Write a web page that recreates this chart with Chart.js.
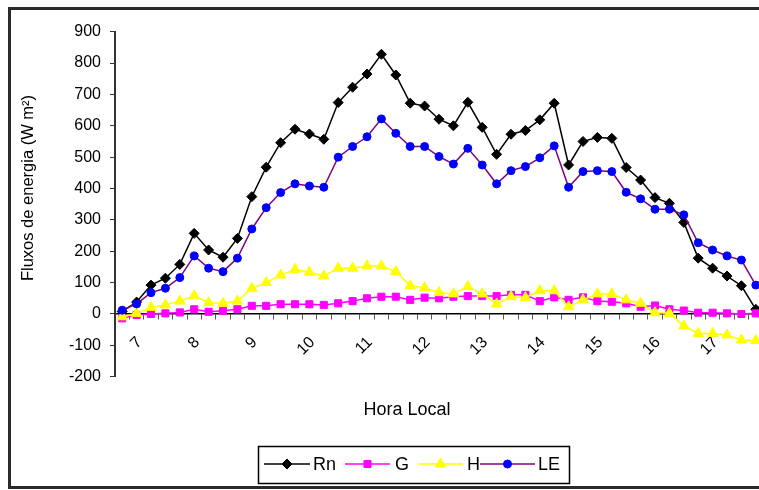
<!DOCTYPE html>
<html>
<head>
<meta charset="utf-8">
<script src="https://cdn.jsdelivr.net/npm/chart.js@4"></script>
<style>
  html, body { margin: 0; padding: 0; background: #fff; overflow: hidden; width: 759px; height: 490px; }
  #frame { position: absolute; left: 8px; top: 7px; width: 800px; height: 482px; box-sizing: border-box; border: 3px solid #2b2b2b; }
  #wrap { position: absolute; left: 0; top: 0; width: 770px; height: 490px; }
</style>
</head>
<body>
<div id="frame"></div>
<div id="wrap"><canvas id="c" width="770" height="490"></canvas></div>
<script>
// Horário local (intervalos de 15 min)
const horas = [
  '6:45', '7:00', '7:15', '7:30', '7:45', '8:00', '8:15', '8:30', '8:45',
  '9:00', '9:15', '9:30', '9:45', '10:00', '10:15', '10:30', '10:45',
  '11:00', '11:15', '11:30', '11:45', '12:00', '12:15', '12:30', '12:45',
  '13:00', '13:15', '13:30', '13:45', '14:00', '14:15', '14:30', '14:45',
  '15:00', '15:15', '15:30', '15:45', '16:00', '16:15', '16:30', '16:45',
  '17:00', '17:15', '17:30', '17:45'
];

// Saldo de radiação (Rn), W m-2
const Rn = [8, 38, 92, 114, 158, 257, 204, 181, 241, 374, 468, 546, 589, 574, 557,
  674, 723, 765, 828, 762, 672, 663, 621, 600, 675, 595, 509, 573, 585, 619,
  672, 475, 550, 563, 560, 467, 427, 371, 353, 292, 178, 146, 121, 90, 15];

// Fluxo de calor no solo (G)
const G = [-14, -3, 0, 2, 5, 15, 7, 10, 15, 26, 26, 31, 31, 31, 29,
  34, 41, 50, 55, 55, 45, 52, 50, 55, 57, 57, 57, 61, 61, 41,
  53, 45, 53, 41, 39, 34, 23, 27, 15, 11, 4, 4, 2, 0, 2];

// Fluxo de calor sensível (H)
const H = [-9, 2, 21, 29, 41, 58, 36, 34, 41, 82, 100, 124, 142, 133, 121,
  146, 146, 153, 153, 135, 90, 84, 68, 64, 87, 64, 32, 55, 52, 74,
  74, 23, 45, 64, 64, 45, 34, 4, 2, -38, -62, -62, -67, -83, -85];

// Fluxo de calor latente (LE)
const LE = [12, 32, 68, 82, 116, 185, 146, 135, 178, 271, 339, 387, 415, 408, 404,
  500, 534, 565, 622, 576, 534, 534, 502, 478, 528, 475, 415, 457, 470, 498,
  536, 404, 454, 457, 454, 388, 367, 334, 334, 316, 227, 204, 185, 172, 92];

const tituloY = 'Fluxos de energia (W m²)';
const tituloX = 'Hora Local';
const FONTE = '"Liberation Sans", Arial, sans-serif';

// Caixa de legenda e títulos dos eixos
const anotacoes = {
  id: 'anotacoes',
  afterDraw(chart) {
    const ctx = chart.ctx;
    ctx.save();
    ctx.fillStyle = '#000';

    ctx.save();
    ctx.font = '16.5px ' + FONTE;
    ctx.translate(28, 188);
    ctx.rotate(-Math.PI / 2);
    ctx.textAlign = 'center';
    ctx.textBaseline = 'middle';
    ctx.fillText(tituloY, 0, 0);
    ctx.restore();

    ctx.font = '18px ' + FONTE;
    ctx.textAlign = 'center';
    ctx.textBaseline = 'middle';
    ctx.fillText(tituloX, 407, 410);

    // legenda
    ctx.lineWidth = 1.5;
    ctx.strokeStyle = '#000';
    ctx.strokeRect(258.5, 446.5, 311, 37);
    const pos = [
      { x1: 264, x2: 310, tx: 313 },
      { x1: 345, x2: 390, tx: 395 },
      { x1: 418, x2: 463, tx: 467 },
      { x1: 480, x2: 535, tx: 538 }
    ];
    const yl = 464;
    chart.data.datasets.forEach((ds, i) => {
      const p = pos[i];
      ctx.beginPath();
      ctx.strokeStyle = ds.borderColor;
      ctx.lineWidth = 1.5;
      ctx.moveTo(p.x1, yl);
      ctx.lineTo(p.x2, yl);
      ctx.stroke();
      ctx.fillStyle = ds.pointBackgroundColor;
      ctx.strokeStyle = ds.pointBorderColor;
      ctx.lineWidth = 1;
      Chart.helpers.drawPoint(ctx, { pointStyle: ds.pointStyle, radius: ds.pointRadius, rotation: 0, borderWidth: 1 }, (p.x1 + p.x2) / 2, yl);
      ctx.fillStyle = '#000';
      ctx.textAlign = 'left';
      ctx.textBaseline = 'middle';
      ctx.fillText(ds.label, p.tx, yl + 1);
    });
    ctx.restore();
  }
};

function serie(label, data, line, fill, style, radius, order) {
  return {
    label, data, order,
    borderColor: line, borderWidth: 1.5,
    pointStyle: style, pointRadius: radius,
    pointBackgroundColor: fill, pointBorderColor: fill, pointBorderWidth: 1,
    tension: 0, fill: false, clip: false
  };
}

new Chart(document.getElementById('c'), {
  type: 'line',
  data: {
    labels: horas,
    datasets: [
      serie('Rn', Rn, '#000000', '#000000', 'rectRot', 5, 4),
      serie('G', G, '#ff00ff', '#ff00ff', 'rect', 5, 3),
      serie('H', H, '#ffff00', '#ffff00', 'triangle', 6, 2),
      serie('LE', LE, '#800080', '#0000ff', 'circle', 4, 1)
    ]
  },
  options: {
    responsive: false,
    animation: false,
    layout: { padding: { left: 0, top: 31.7, right: 7, bottom: 113.3 } },
    plugins: { legend: { display: false }, tooltip: { enabled: false } },
    scales: {
      x: {
        type: 'category',
        offset: true,
        position: { y: 0 },
        grid: { offset: true, drawOnChartArea: false, drawTicks: true, tickLength: 5, color: '#555', lineWidth: 1 },
        border: { display: true, color: '#000', width: 1.5 },
        ticks: {
          autoSkip: false, minRotation: 45, maxRotation: 45, padding: 14, labelOffset: 3,
          color: '#000', font: { family: FONTE, size: 16 },
          callback(value) {
            const t = this.getLabelForValue(value);
            return t.endsWith(':00') ? t.split(':')[0] : '';
          }
        },
        afterFit(scale) {
          // rótulos inclinados não devem reduzir a área do gráfico
          scale.paddingLeft = 0;
          scale.paddingRight = 0;
          scale.paddingTop = 0;
          scale.paddingBottom = 0;
        }
      },
      y: {
        min: -200, max: 900,
        ticks: { stepSize: 100, padding: 9, color: '#000', font: { family: FONTE, size: 16 } },
        grid: { drawOnChartArea: false, drawTicks: true, tickLength: 5, color: '#333', lineWidth: 1 },
        border: { display: true, color: '#333', width: 2 },
        afterFit(scale) { scale.width = 115; }
      }
    }
  },
  plugins: [anotacoes]
});
</script>
</body>
</html>
